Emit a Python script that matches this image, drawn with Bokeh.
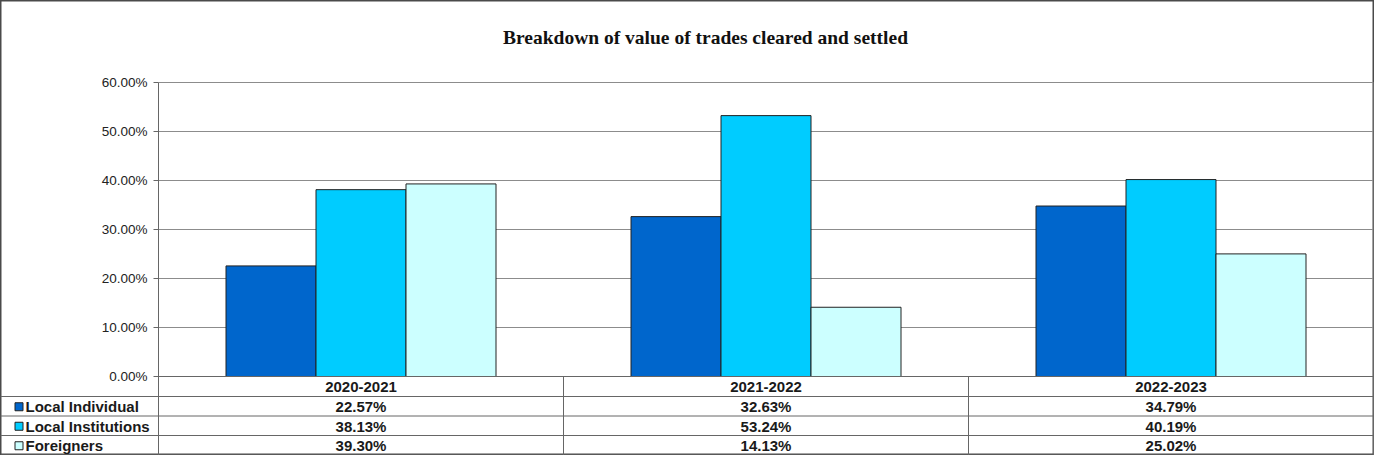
from bokeh.plotting import figure
from bokeh.models import Range1d
from bokeh.embed import file_html
from bokeh.resources import INLINE
from bokeh.core.properties import value

# ---- data ----
chart_title = "Breakdown of value of trades cleared and settled"
periods = ["2020-2021", "2021-2022", "2022-2023"]
series_names = ["Local Individual", "Local Institutions", "Foreigners"]
local_individual = [22.57, 32.63, 34.79]
local_institutions = [38.13, 53.24, 40.19]
foreigners = [39.30, 14.13, 25.02]
y_ticks = [0, 10, 20, 30, 40, 50, 60]
colors = ["#0066CC", "#00CCFF", "#CCFFFF"]

series_values = [local_individual, local_institutions, foreigners]

# ---- layout constants (pixels) ----
W, H = 1374, 455
PL, PR = 158, 1373          # plot area left / right
PT, PB = 82, 376            # plot area top / bottom (60% / 0%)
HEADER_H = 20
ROW_H = 19.5
YMAX = 60.0

ncat = len(periods)
cw = (PR - PL) / ncat       # px per category
k = YMAX / (PB - PT)        # data units per px (vertical)

def X(px):
    return (px - PL) / cw

def Yd(pixels_below_zero):
    return -pixels_below_zero * k

p = figure(width=W, height=H, output_backend="svg", toolbar_location=None,
           x_range=Range1d(X(0), X(W)), y_range=Range1d(-(H - PB) * k, PB * k),
           min_border=0, min_border_left=0, min_border_right=0,
           min_border_top=0, min_border_bottom=0)
p.xaxis.visible = False
p.yaxis.visible = False
p.xgrid.visible = False
p.ygrid.visible = False
p.outline_line_color = "#4a4a4a"
p.outline_line_width = 2
p.background_fill_color = "white"
p.border_fill_color = "white"

FONT = value("Liberation Sans")
grid_col = "#8c8c8c"
line_col = "#666666"

# gridlines (incl. plot top border)
gl = [t for t in y_ticks if t > 0]
p.segment(x0=[0] * len(gl), x1=[ncat] * len(gl), y0=gl, y1=gl,
          line_color=grid_col, line_width=1)
# tick marks
p.segment(x0=[X(PL - 5)] * len(y_ticks), x1=[0] * len(y_ticks), y0=y_ticks, y1=y_ticks,
          line_color=line_col, line_width=1)
# tick labels
p.text(x=[X(PL - 11)] * len(y_ticks), y=y_ticks,
       text=[f"{t:.2f}%" for t in y_ticks],
       text_font=FONT, text_font_size="13.5px", text_color="#222222",
       text_align="right", text_baseline="middle")

# bars
group_w = 2.0 / 3.0
bw = group_w / len(series_names)
for si, (vals, col) in enumerate(zip(series_values, colors)):
    xs = [i + 0.5 + (si - 1) * bw for i in range(ncat)]
    p.vbar(x=xs, top=vals, bottom=0, width=bw, fill_color=col,
           line_color="#222222", line_width=1)

# ---- data table ----
row_edges = [0, HEADER_H] + [HEADER_H + ROW_H * (r + 1) for r in range(len(series_names))]
bottom_px = row_edges[-1]
hy = [Yd(e) for e in row_edges]
x_starts = [0] + [X(0)] * (len(row_edges) - 1)
p.segment(x0=x_starts, x1=[ncat] * len(hy), y0=hy, y1=hy,
          line_color=line_col, line_width=1)
p.segment(x0=[0, ncat], x1=[0, ncat], y0=[YMAX, YMAX], y1=[Yd(bottom_px)] * 2,
          line_color=line_col, line_width=1)
p.segment(x0=list(range(1, ncat)), x1=list(range(1, ncat)),
          y0=[0] * (ncat - 1), y1=[Yd(bottom_px)] * (ncat - 1),
          line_color=line_col, line_width=1)

# header labels
p.text(x=[i + 0.5 for i in range(ncat)], y=[Yd(HEADER_H / 2 + 0.5)] * ncat, text=periods,
       text_font=FONT, text_font_style="bold", text_font_size="15px",
       text_color="#1a1a1a", text_align="center", text_baseline="middle")

# rows
row_cy = [Yd(HEADER_H + ROW_H * (r + 0.5) + 0.5) for r in range(len(series_names))]
p.scatter(x=[X(18.5)] * len(series_names), y=row_cy, marker="square", size=8,
          fill_color=colors, line_color="#222222", line_width=1)
p.text(x=[X(25)] * len(series_names), y=row_cy, text=series_names,
       text_font=FONT, text_font_style="bold", text_font_size="15px",
       text_color="#1a1a1a", text_align="left", text_baseline="middle")
for r, vals in enumerate(series_values):
    p.text(x=[i + 0.5 for i in range(ncat)], y=[row_cy[r]] * ncat,
           text=[f"{v:.2f}%" for v in vals],
           text_font=FONT, text_font_style="bold", text_font_size="15px",
           text_color="#1a1a1a", text_align="center", text_baseline="middle")

# chart title
p.text(x=[X(705)], y=[(PB - 37) * k], text=[chart_title],
       text_font=value("Liberation Serif"), text_font_style="bold",
       text_font_size="19.5px", text_color="#111111",
       text_align="center", text_baseline="middle")

open("out.html", "w").write(file_html(p, INLINE))
